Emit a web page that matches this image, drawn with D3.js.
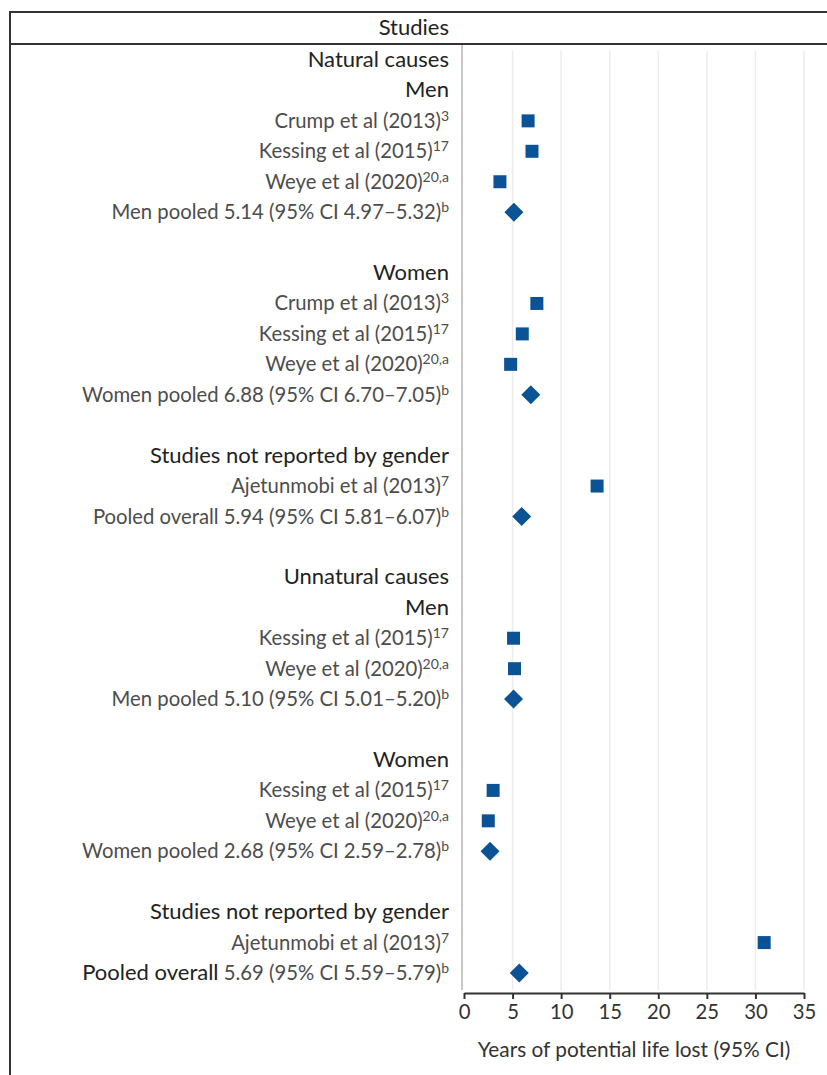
<!DOCTYPE html>
<html><head><meta charset="utf-8">
<script src="https://cdn.jsdelivr.net/npm/d3@7"></script>
<style>body{margin:0;background:#fff}svg{display:block}</style>
</head><body>
<script>
// ---- data ----
const labels = [
 "Natural causes","Men","Crump et al (2013)","Kessing et al (2015)","Weye et al (2020)","Men pooled 5.14 (95% CI 4.97–5.32)","",
 "Women","Crump et al (2013)","Kessing et al (2015)","Weye et al (2020)","Women pooled 6.88 (95% CI 6.70–7.05)","",
 "Studies not reported by gender","Ajetunmobi et al (2013)","Pooled overall 5.94 (95% CI 5.81–6.07)","",
 "Unnatural causes","Men","Kessing et al (2015)","Weye et al (2020)","Men pooled 5.10 (95% CI 5.01–5.20)","",
 "Women","Kessing et al (2015)","Weye et al (2020)","Women pooled 2.68 (95% CI 2.59–2.78)","",
 "Studies not reported by gender","Ajetunmobi et al (2013)","Pooled overall 5.69 (95% CI 5.59–5.79)"
];
const superscripts = [
 "","","3","17","20,a","b","",
 "","3","17","20,a","b","",
 "","7","b","",
 "","","17","20,a","b","",
 "","17","20,a","b","",
 "","7","b"
];
const rowTypes = [
 "head","head","study","study","study","pooled","blank",
 "head","study","study","study","pooled","blank",
 "head","study","pooled","blank",
 "head","head","study","study","pooled","blank",
 "head","study","study","pooled","blank",
 "head","study","final"
];
const values = [
 null,null,6.6,7.0,3.7,5.14,null,
 null,7.5,6.0,4.8,6.88,null,
 null,13.7,5.94,null,
 null,null,5.1,5.2,5.10,null,
 null,3.0,2.5,2.68,null,
 null,30.9,5.69
];
const xTicks = [0,5,10,15,20,25,30,35];
const headerTitle = "Studies";
const axisTitle = "Years of potential life lost (95% CI)";

// ---- drawing ----
const W = 827, H = 1075;
const svg = d3.select("body").append("svg").attr("width", W).attr("height", H);
const font = "Lato, 'Open Sans', sans-serif";
const fs = 20.3, fsHead = 22;
const blue = "#0b5394";

const x = d3.scaleLinear().domain([0,35]).range([464,804]);
const y = d3.scalePoint().domain(d3.range(labels.length)).range([60,973]);

// gridlines
svg.append("g").selectAll("line").data(xTicks.filter(t=>t>0)).join("line")
  .attr("x1", d=>x(d)).attr("x2", d=>x(d)).attr("y1", 51).attr("y2", 990)
  .attr("stroke", "#ececec").attr("stroke-width", 1.5);

// frame
svg.append("line").attr("x1",10).attr("x2",10).attr("y1",11).attr("y2",H).attr("stroke","#333").attr("stroke-width",2);
svg.append("line").attr("x1",9).attr("x2",W).attr("y1",12).attr("y2",12).attr("stroke","#333").attr("stroke-width",2);
svg.append("line").attr("x1",9).attr("x2",W).attr("y1",44).attr("y2",44).attr("stroke","#333").attr("stroke-width",2);
svg.append("line").attr("x1",462).attr("x2",462).attr("y1",45).attr("y2",990).attr("stroke","#c8c8c8").attr("stroke-width",2);

svg.append("text").attr("x",449).attr("y",35).attr("text-anchor","end")
  .attr("font-family",font).attr("font-size",fsHead).attr("fill","#222").text(headerTitle);

// labels
const rows = d3.range(labels.length).filter(i=>rowTypes[i]!=="blank");
const lab = svg.append("g").selectAll("text").data(rows).join("text")
  .attr("x",449).attr("y",i=>y(i)+7).attr("text-anchor","end")
  .attr("font-family",font).attr("font-size",i=>rowTypes[i]==="head"?fsHead:fs)
  .attr("fill",i=>rowTypes[i]==="head"?"#222":"#4d4d4d");
lab.each(function(i){
  const t = d3.select(this);
  if (rowTypes[i]==="final") {
    t.append("tspan").attr("fill","#222").attr("font-size",fsHead).text("Pooled overall");
    t.append("tspan").text(labels[i].replace("Pooled overall",""));
  } else {
    t.append("tspan").text(labels[i]);
  }
  if (superscripts[i]) t.append("tspan").attr("dy",-7).attr("font-size",14).text(superscripts[i]);
});

// markers
const pts = d3.range(values.length).filter(i=>values[i]!==null);
svg.append("g").selectAll("path").data(pts).join("path")
  .attr("transform", i=>`translate(${x(values[i])},${y(i)})`)
  .attr("d", i=> rowTypes[i]==="study" ? "M-6.5,-6.5H6.5V6.5H-6.5Z" : "M0,-9.5L9.5,0L0,9.5L-9.5,0Z")
  .attr("fill", blue);

// axis
const ax = svg.append("g").attr("transform","translate(0,993)")
  .call(d3.axisBottom(x).tickValues(xTicks).tickSize(6).tickSizeOuter(0).tickPadding(6));
ax.select(".domain").attr("stroke","#333").attr("stroke-width",2);
ax.selectAll(".tick line").attr("stroke","#333").attr("stroke-width",2);
ax.selectAll(".tick text").attr("font-family",font).attr("font-size",fs).attr("fill","#333");

svg.append("text").attr("x",634).attr("y",1057).attr("text-anchor","middle")
  .attr("font-family",font).attr("font-size",20.8).attr("fill","#333").text(axisTitle);
</script>
</body></html>
